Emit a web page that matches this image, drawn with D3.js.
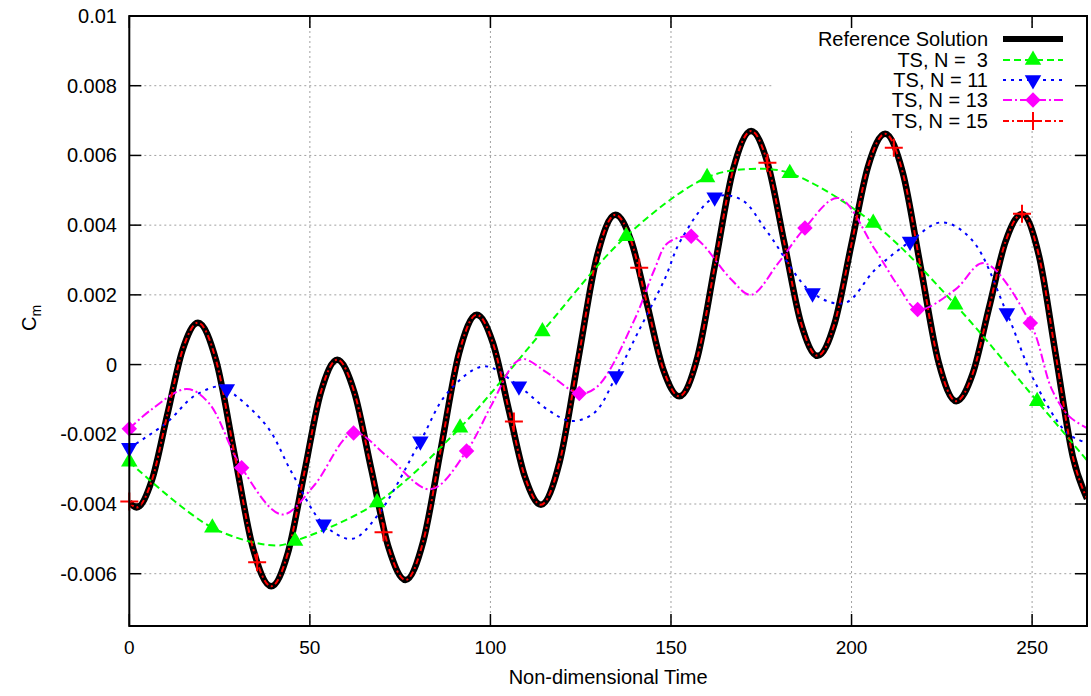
<!DOCTYPE html>
<html>
<head>
<meta charset="utf-8">
<script src="https://cdn.jsdelivr.net/npm/d3@7/dist/d3.min.js"></script>
<style>
  body { margin: 0; background: #fff; }
  text { font-family: "Liberation Sans", Arial, sans-serif; }
</style>
</head>
<body>
<svg id="chart" width="1091" height="696"></svg>
<script>
// reference solution
var refT = [0, 2, 6.25, 10.5, 14.75, 19, 24.1, 29.15, 34.2, 39.3, 43.9, 48.45, 53, 57.6,
  62.3, 67.05, 71.8, 76.5, 81.4, 86.35, 91.3, 96.2, 100.65, 105.1, 109.55, 114,
  119.15, 124.3, 129.45, 134.6, 139, 143.45, 147.9, 152.3, 157.3, 162.25, 167.2, 172.2,
  176.8, 181.4, 186, 190.6, 195.3, 199.95, 204.6, 209.3, 214.2, 219.15, 224.1, 229,
  233.55, 238.1, 242.65, 247.2, 251.9, 256.6, 261.3, 265.2];
var refCm = [-0.00395, -0.0041, -0.00332, -0.00145, 0.00042, 0.0012, 0.00009, -0.00258, -0.00525, -0.00636,
  -0.00541, -0.00311, -0.00081, 0.00014, -0.00079, -0.00302, -0.00525, -0.00618, -0.00507, -0.00238,
  0.00032, 0.00143, 0.00063, -0.0013, -0.00322, -0.00402, -0.0028, 0.00014, 0.00308, 0.0043,
  0.00354, 0.0017, -0.00015, -0.00091, 0.0002, 0.0029, 0.00559, 0.0067, 0.00576, 0.00348,
  0.00119, 0.00025, 0.00118, 0.00344, 0.00569, 0.00662, 0.0055, 0.00279, 0.00007, -0.00105,
  -0.00026, 0.00164, 0.00353, 0.00432, 0.00312, 0.00024, -0.00265, -0.00385];

// TS, N = 3
var ts3T = [0, 23, 40.4, 45.9, 68.6, 91.6, 114.4, 137.6, 160, 172.2, 182.9, 206, 228.7, 251.4, 265.2];
var ts3Cm = [-0.00279, -0.00468, -0.00519, -0.00506, -0.00396, -0.00181, 0.00095, 0.00368, 0.00537, 0.00561,
  0.00549, 0.00406, 0.00172, -0.00105, -0.00275];
var ts3MarkT = [0, 23, 45.9, 68.6, 91.6, 114.4, 137.6, 160, 182.9, 206, 228.7, 251.4];
var ts3MarkCm = [-0.00279, -0.00468, -0.00506, -0.00396, -0.00181, 0.00095, 0.00368, 0.00537, 0.00549, 0.00406, 0.00172, -0.00105];

// TS, N = 11
var ts11T = [0, 10.3, 18, 25, 27, 38.1, 45, 53.8, 61.7, 68.6, 80.6, 88.1, 98.2, 107.9, 115.8, 122.3,
  128.8, 134.8, 140.8, 148.2, 152.8, 162.1, 169.5, 176.9, 189.2, 198.2, 206.5, 216.2, 225, 233.3,
  243, 250.9, 259.7, 265.2];
var ts11Cm = [-0.00239, -0.00167, -0.0009, -0.00062, -0.0007, -0.00177, -0.0031, -0.00458, -0.005, -0.00435,
  -0.0022, -0.00081, -0.00005, -0.00062, -0.00129, -0.00162, -0.00138, -0.00033, 0.00091, 0.00244,
  0.00358, 0.0048, 0.00473, 0.00377, 0.00205, 0.00177, 0.00272, 0.00353, 0.00408, 0.00358,
  0.00148, -0.00053, -0.00196, -0.00225];
var ts11MarkT = [0, 27, 53.8, 80.6, 107.9, 134.8, 162.1, 189.2, 216.2, 243];
var ts11MarkCm = [-0.00239, -0.0007, -0.00458, -0.0022, -0.00062, -0.00033, 0.0048, 0.00205, 0.00353, 0.00148];

// TS, N = 13
var ts13T = [0, 6, 15.9, 22, 31.1, 42.3, 51, 62.1, 71.4, 83.4, 93.4, 100.1, 106.6, 109.3, 115.8,
  124.6, 129.7, 139.9, 145.4, 149.1, 155.6, 158.4, 166.7, 172.2, 179.7, 187.1, 196.3, 206.5, 213,
  218.3, 228.7, 236.6, 249.5, 255.5, 260.2, 265.2];
var ts13Cm = [-0.00184, -0.0013, -0.0007, -0.0011, -0.00296, -0.0043, -0.00349, -0.00196, -0.00263, -0.00358,
  -0.00248, -0.0012, 0.00003, 0.00016, -0.00024, -0.00083, -0.00062, 0.00129, 0.00272, 0.00349,
  0.00368, 0.00349, 0.00244, 0.002, 0.00291, 0.00392, 0.00478, 0.0033, 0.00224, 0.00158,
  0.00215, 0.00291, 0.00119, -0.00072, -0.00148, -0.00182];
var ts13MarkT = [0, 31.1, 62.1, 93.4, 124.6, 155.6, 187.1, 218.3, 249.5];
var ts13MarkCm = [-0.00184, -0.00296, -0.00196, -0.00248, -0.00083, 0.00368, 0.00392, 0.00158, 0.00119];

// TS, N = 15 (line sits on top of the reference solution)
var ts15T = refT;
var ts15Cm = refCm;
var ts15MarkT = [0, 35.4, 70.4, 106.5, 141.2, 176.7, 211.7, 247.2];
var ts15MarkCm = [-0.00393, -0.00567, -0.00481, -0.00163, 0.00278, 0.00579, 0.00622, 0.00433];

var xTicks = [0, 50, 100, 150, 200, 250];
var yTicks = [-0.006, -0.004, -0.002, 0, 0.002, 0.004, 0.006, 0.008, 0.01];
var yTickLabels = ["-0.006", "-0.004", "-0.002", "0", "0.002", "0.004", "0.006", "0.008", "0.01"];
var legendLabels = ["Reference Solution", "TS, N =  3", "TS, N = 11", "TS, N = 13", "TS, N = 15"];

var svg = d3.select("#chart");

var plotLeft = 129.3, plotRight = 1087, plotTop = 16, plotBottom = 626;
var x = d3.scaleLinear().domain([0, 265.2]).range([plotLeft, plotRight]);
var y = d3.scaleLinear().domain([-0.0075, 0.01]).range([plotBottom, plotTop]);

function zip(ts, vs) {
  return ts.map(function(t, i) { return [t, vs[i]]; });
}

// grid
var grid = svg.append("g").attr("stroke", "#a0a0a0").attr("stroke-width", 1).attr("stroke-dasharray", "2,3");
grid.selectAll("line.gx").data(xTicks.slice(1)).enter().append("line")
    .attr("x1", function(d) { return x(d); }).attr("x2", function(d) { return x(d); })
    .attr("y1", plotTop).attr("y2", plotBottom);
grid.selectAll("line.gy").data(yTicks.slice(0, -1)).enter().append("line")
    .attr("y1", function(d) { return y(d); }).attr("y2", function(d) { return y(d); })
    .attr("x1", plotLeft).attr("x2", plotRight);

// opaque key box
svg.append("rect").attr("x", 772).attr("y", 29).attr("width", 303).attr("height", 101).attr("fill", "#fff");

svg.append("clipPath").attr("id", "clip").append("rect")
    .attr("x", plotLeft).attr("y", plotTop).attr("width", plotRight - plotLeft).attr("height", plotBottom - plotTop);

var plot = svg.append("g").attr("clip-path", "url(#clip)");

var smooth = d3.line().x(function(d) { return x(d[0]); }).y(function(d) { return y(d[1]); })
    .curve(d3.curveCatmullRom.alpha(0.5));
var mono = d3.line().x(function(d) { return x(d[0]); }).y(function(d) { return y(d[1]); })
    .curve(d3.curveMonotoneX);

var series = [
  { pts: zip(ts3T, ts3Cm), marks: zip(ts3MarkT, ts3MarkCm), color: "#00ff00", dash: "7,4", sym: "up" },
  { pts: zip(ts11T, ts11Cm), marks: zip(ts11MarkT, ts11MarkCm), color: "#0000ff", dash: "3,5", sym: "down" },
  { pts: zip(ts13T, ts13Cm), marks: zip(ts13MarkT, ts13MarkCm), color: "#ff00ff", dash: "9,3,2,3", sym: "diamond" }
];

var triUp = d3.symbol().type(d3.symbolTriangle).size(118)();
var diamond = d3.symbol().type(d3.symbolSquare).size(120)();
var plus = "M-9,0H9M0,-9V9";

function drawMark(g, sym, color, px, py) {
  if (sym == "plus") {
    g.append("path").attr("d", plus).attr("transform", "translate(" + px + "," + py + ")")
        .attr("stroke", color).attr("stroke-width", 2).attr("fill", "none");
  } else {
    var rot = sym == "down" ? 180 : (sym == "diamond" ? 45 : 0);
    g.append("path").attr("d", sym == "diamond" ? diamond : triUp)
        .attr("transform", "translate(" + px + "," + py + ") rotate(" + rot + ")")
        .attr("fill", color);
  }
}

// reference
plot.append("path").attr("d", mono(zip(refT, refCm)))
    .attr("fill", "none").attr("stroke", "#000").attr("stroke-width", 6.5).attr("stroke-linejoin", "round");

series.forEach(function(s) {
  plot.append("path").attr("d", smooth(s.pts))
      .attr("fill", "none").attr("stroke", s.color).attr("stroke-width", 2).attr("stroke-dasharray", s.dash);
});

plot.append("path").attr("d", mono(zip(ts15T, ts15Cm)))
    .attr("fill", "none").attr("stroke", "#ff0000").attr("stroke-width", 2).attr("stroke-dasharray", "6,3,2,3");

var markG = svg.append("g");
series.forEach(function(s) {
  s.marks.forEach(function(d) { drawMark(markG, s.sym, s.color, x(d[0]), y(d[1])); });
});
zip(ts15MarkT, ts15MarkCm).forEach(function(d) { drawMark(markG, "plus", "#ff0000", x(d[0]), y(d[1])); });

// frame and inward ticks
var axisG = svg.append("g").attr("stroke", "#000").attr("stroke-width", 1.5);
axisG.append("rect").attr("x", plotLeft).attr("y", plotTop).attr("width", plotRight - plotLeft).attr("height", plotBottom - plotTop)
    .attr("fill", "none").attr("stroke-width", 2);
xTicks.forEach(function(t) {
  axisG.append("line").attr("x1", x(t)).attr("x2", x(t)).attr("y1", plotBottom).attr("y2", plotBottom - 12);
  axisG.append("line").attr("x1", x(t)).attr("x2", x(t)).attr("y1", plotTop).attr("y2", plotTop + 12);
});
yTicks.forEach(function(t) {
  axisG.append("line").attr("y1", y(t)).attr("y2", y(t)).attr("x1", plotLeft).attr("x2", plotLeft + 12);
  axisG.append("line").attr("y1", y(t)).attr("y2", y(t)).attr("x1", plotRight).attr("x2", plotRight - 12);
});

svg.selectAll("text.xt").data(xTicks).enter().append("text")
    .attr("x", function(d) { return x(d); }).attr("y", 654)
    .attr("text-anchor", "middle").attr("font-size", 19).text(function(d) { return d; });
svg.selectAll("text.yt").data(yTicks).enter().append("text")
    .attr("x", 117).attr("y", function(d) { return y(d) + 7; })
    .attr("text-anchor", "end").attr("font-size", 20).text(function(d, i) { return yTickLabels[i]; });

svg.append("text").attr("x", (plotLeft + plotRight) / 2).attr("y", 684).attr("text-anchor", "middle")
    .attr("font-size", 20).text("Non-dimensional Time");

var yl = svg.append("text").attr("transform", "translate(36,318) rotate(-90)")
    .attr("text-anchor", "middle").attr("font-size", 20);
yl.append("tspan").text("C");
yl.append("tspan").attr("font-size", 14).attr("dy", 5).text("m");

// key
var rowY = [39, 60, 80, 100, 121];
var keyStyles = [
  { color: "#000", width: 6, dash: null, sym: null },
  { color: "#00ff00", width: 2, dash: "7,4", sym: "up" },
  { color: "#0000ff", width: 2, dash: "3,5", sym: "down" },
  { color: "#ff00ff", width: 2, dash: "9,3,2,3", sym: "diamond" },
  { color: "#ff0000", width: 2, dash: "6,3,2,3", sym: "plus" }
];
legendLabels.forEach(function(lab, i) {
  svg.append("text").attr("x", 988).attr("y", rowY[i] + 7).attr("text-anchor", "end")
      .attr("font-size", 20).style("white-space", "pre").text(lab);
  var st = keyStyles[i];
  svg.append("line").attr("x1", 1003).attr("x2", 1063).attr("y1", rowY[i]).attr("y2", rowY[i])
      .attr("stroke", st.color).attr("stroke-width", st.width).attr("stroke-dasharray", st.dash);
  if (st.sym) drawMark(svg, st.sym, st.color, 1033, rowY[i]);
});
</script>
</body>
</html>
